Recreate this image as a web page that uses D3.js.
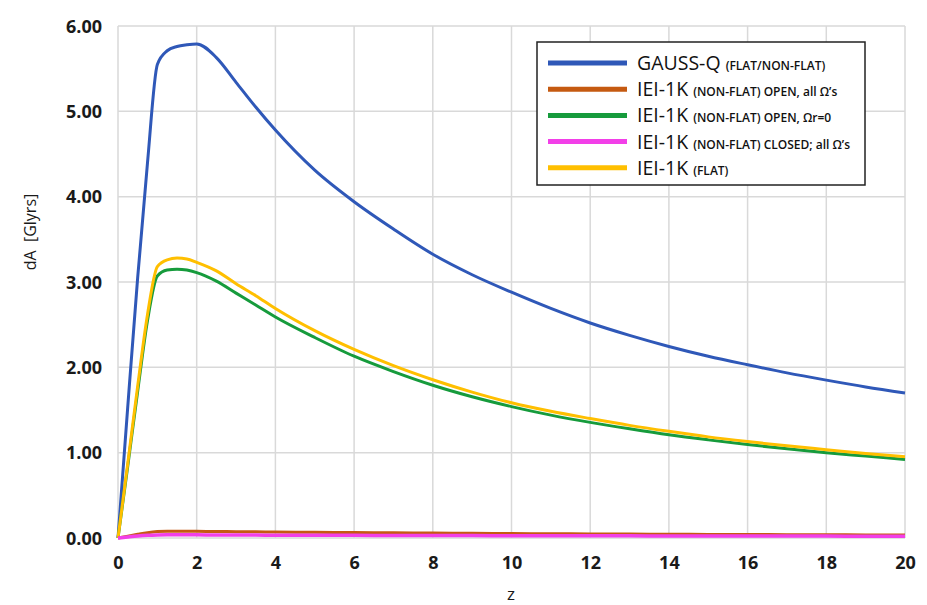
<!DOCTYPE html>
<html>
<head>
<meta charset="utf-8">
<script src="https://cdn.jsdelivr.net/npm/d3@7"></script>
<style>
  html, body { margin: 0; padding: 0; background: #fff; }
  svg { display: block; font-family: "Open Sans", "DejaVu Sans", sans-serif; }
</style>
</head>
<body>
<svg id="chart" width="927" height="605"></svg>
<script>
// ---- data ----
const zValues = [0, 0.25, 0.5, 0.75, 1, 1.25, 1.5, 1.75, 2, 2.5, 3, 3.5, 4, 5, 6, 7, 8, 9, 10, 11, 12, 13, 14, 15, 16, 17, 18, 19, 20];
const gaussQ      = [0, 1.55, 3.05, 4.40, 5.55, 5.71, 5.76, 5.78, 5.79, 5.63, 5.34, 5.05, 4.78, 4.31, 3.94, 3.62, 3.325, 3.085, 2.88, 2.69, 2.52, 2.375, 2.245, 2.13, 2.03, 1.935, 1.85, 1.77, 1.70];
const ieiOpenAll  = [0, 0.022, 0.043, 0.062, 0.075, 0.080, 0.080, 0.079, 0.078, 0.076, 0.074, 0.072, 0.070, 0.067, 0.064, 0.061, 0.058, 0.055, 0.052, 0.050, 0.048, 0.046, 0.044, 0.042, 0.041, 0.039, 0.038, 0.036, 0.035];
const ieiOpenR0   = [0, 0.85, 1.72, 2.55, 3.07, 3.14, 3.15, 3.14, 3.11, 3.01, 2.87, 2.73, 2.59, 2.35, 2.13, 1.95, 1.79, 1.655, 1.54, 1.44, 1.355, 1.28, 1.21, 1.15, 1.095, 1.045, 1.00, 0.96, 0.92];
const ieiClosed   = [0, 0.012, 0.023, 0.031, 0.036, 0.038, 0.038, 0.038, 0.037, 0.036, 0.035, 0.034, 0.033, 0.032, 0.031, 0.030, 0.029, 0.028, 0.027, 0.026, 0.025, 0.025, 0.024, 0.023, 0.023, 0.022, 0.022, 0.021, 0.021];
const ieiFlat     = [0, 0.88, 1.78, 2.62, 3.18, 3.26, 3.28, 3.27, 3.23, 3.13, 2.98, 2.84, 2.69, 2.43, 2.21, 2.02, 1.855, 1.71, 1.585, 1.485, 1.40, 1.32, 1.25, 1.185, 1.13, 1.08, 1.035, 0.99, 0.953];
const xTicks = [0, 2, 4, 6, 8, 10, 12, 14, 16, 18, 20];
const yTicks = [0, 1, 2, 3, 4, 5, 6];
const seriesNames = ["GAUSS-Q", "IEI-1K", "IEI-1K", "IEI-1K", "IEI-1K"];
const seriesNotes = ["(FLAT/NON-FLAT)", "(NON-FLAT) OPEN, all Ω’s", "(NON-FLAT) OPEN, Ωr=0", "(NON-FLAT) CLOSED; all Ω’s", "(FLAT)"];
const seriesColors = ["#2f58b8", "#c55a11", "#169b3c", "#f23fe8", "#ffbf00"];
const seriesValues = [gaussQ, ieiOpenAll, ieiOpenR0, ieiClosed, ieiFlat];
const drawOrder = [0, 2, 4, 1, 3];

// ---- layout ----
const svg = d3.select("#chart");
const x = d3.scaleLinear().domain([0, 20]).range([118, 905]);
const y = d3.scaleLinear().domain([0, 6]).range([538, 26]);

// gridlines
const grid = svg.append("g");
grid.selectAll("line.h").data(yTicks).join("line")
  .attr("x1", x(0)).attr("x2", x(20))
  .attr("y1", d => y(d)).attr("y2", d => y(d))
  .attr("stroke", "#d9d9d9").attr("stroke-width", 1.5);
grid.selectAll("line.v").data(xTicks).join("line")
  .attr("x1", d => x(d)).attr("x2", d => x(d))
  .attr("y1", y(0)).attr("y2", y(6))
  .attr("stroke", "#d9d9d9").attr("stroke-width", 1.5);

// axes (labels only)
const xAxis = d3.axisBottom(x).tickValues(xTicks).tickSize(0).tickPadding(0).tickFormat(d3.format("d"));
const gx = svg.append("g").attr("transform", `translate(0,${y(0) + 31})`).call(xAxis);
gx.select(".domain").remove();
gx.selectAll("text").attr("font-size", 18).attr("font-weight", 700).attr("fill", "#1a1a1a")
  .attr("font-family", "'Open Sans', sans-serif").attr("dy", 0).attr("y", 0);

const yAxis = d3.axisLeft(y).tickValues(yTicks).tickSize(0).tickPadding(0).tickFormat(d3.format(".2f"));
const gy = svg.append("g").attr("transform", `translate(102,0)`).call(yAxis);
gy.select(".domain").remove();
gy.selectAll("text").attr("font-size", 18).attr("font-weight", 700).attr("fill", "#1a1a1a")
  .attr("font-family", "'Open Sans', sans-serif").attr("dy", "0.35em");

// axis titles
svg.append("text").attr("x", 511).attr("y", 600).attr("text-anchor", "middle")
  .attr("font-size", 17).attr("fill", "#1a1a1a").text("z");
svg.append("text").attr("transform", "translate(36,232) rotate(-90)").attr("text-anchor", "middle")
  .attr("font-size", 16).attr("fill", "#1a1a1a").attr("xml:space", "preserve").text("dA  [Glyrs]");

// lines
const line = d3.line().x(d => x(d[0])).y(d => y(d[1])).curve(d3.curveMonotoneX);
drawOrder.forEach(i => {
  const pts = zValues.map((z, k) => [z, seriesValues[i][k]]);
  svg.append("path").datum(pts).attr("d", line)
    .attr("fill", "none").attr("stroke", seriesColors[i]).attr("stroke-width", i === 3 ? 3.5 : 3)
    .attr("stroke-linejoin", "round");
});

// legend
const lg = svg.append("g");
lg.append("rect").attr("x", 537).attr("y", 42).attr("width", 328).attr("height", 143)
  .attr("fill", "#fff").attr("stroke", "#222").attr("stroke-width", 1.5);
seriesNames.forEach((name, i) => {
  const cy = 63 + i * 26.2;
  lg.append("line").attr("x1", 548).attr("x2", 627).attr("y1", cy).attr("y2", cy)
    .attr("stroke", seriesColors[i]).attr("stroke-width", 5);
  const t = lg.append("text").attr("x", 637).attr("y", cy + 7).attr("fill", "#111");
  t.append("tspan").attr("font-size", 19.5).text(name + " ");
  t.append("tspan").attr("font-size", 12).attr("font-weight", 600).text(seriesNotes[i]);
});
</script>
</body>
</html>
